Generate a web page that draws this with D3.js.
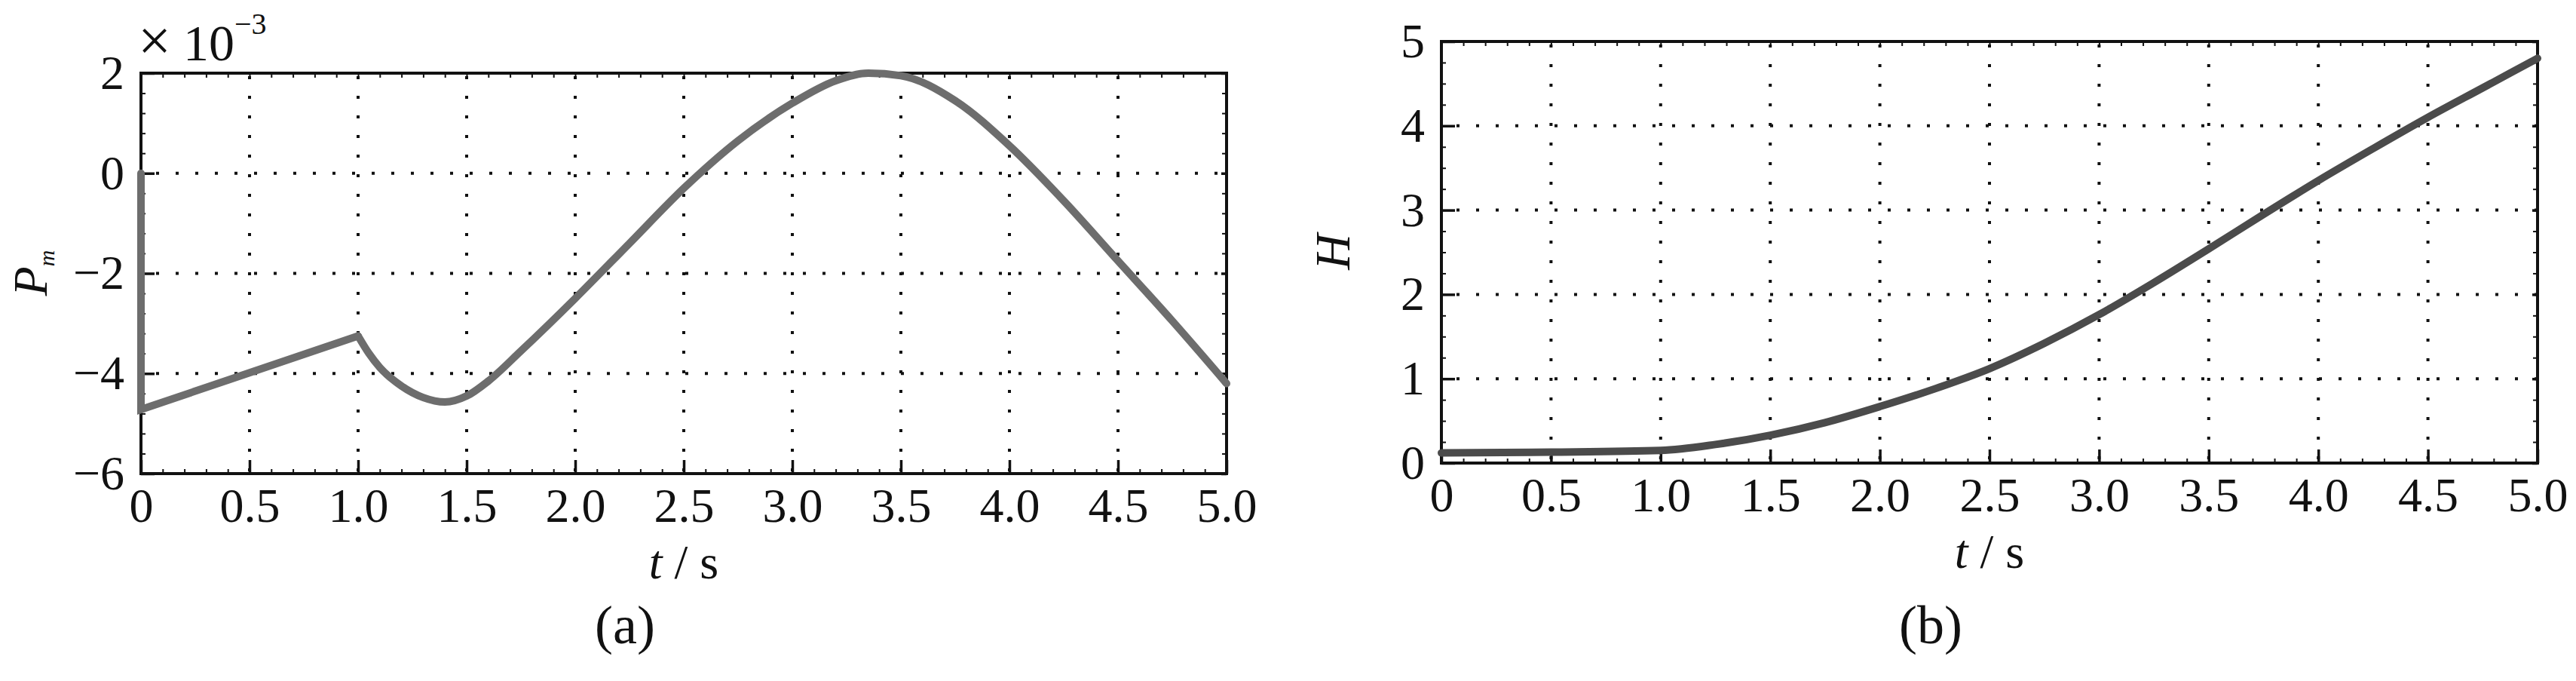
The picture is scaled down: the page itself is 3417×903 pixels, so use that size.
<!DOCTYPE html>
<html>
<head>
<meta charset="utf-8">
<script src="https://cdn.jsdelivr.net/npm/d3@7"></script>
<style>
  html, body { margin: 0; padding: 0; background: #fff; }
  svg { display: block; background: #fff; }
  svg text { font-family: "Liberation Serif", "Times New Roman", serif !important; fill: #111; }
</style>
</head>
<body>
<svg id="chart" width="3417" height="903"></svg>
<script>
//
// Data
//
const tTicks = [0, 0.5, 1.0, 1.5, 2.0, 2.5, 3.0, 3.5, 4.0, 4.5, 5.0];
const tTickLabels = ['0', '0.5', '1.0', '1.5', '2.0', '2.5', '3.0', '3.5', '4.0', '4.5', '5.0'];

// (a) Pm, in units of 1e-3
const pmTicks = [-6, -4, -2, 0, 2];
const pmT = [0, 0, 1.0, 1.05, 1.1, 1.2, 1.3, 1.4, 1.5, 1.6, 1.75, 2.0, 2.25, 2.5,
             2.75, 3.0, 3.2, 3.35, 3.5, 3.75, 4.0, 4.25, 4.5, 4.75, 5.0];
const pmV = [0, -4.72, -3.25, -3.6, -3.88, -4.25, -4.48, -4.57, -4.45, -4.15, -3.55, -2.5, -1.4, -0.3,
             0.65, 1.4, 1.85, 2.0, 1.95, 1.45, 0.55, -0.55, -1.75, -2.95, -4.2];

// (b) H
const hTicks = [0, 1, 2, 3, 4, 5];
const hT = [0, 0.5, 1.0, 1.25, 1.5, 1.75, 2.0, 2.25, 2.5, 2.75, 3.0, 3.25, 3.5, 3.75, 4.0, 4.25, 4.5, 4.75, 5.0];
const hV = [0.12, 0.13, 0.15, 0.22, 0.33, 0.48, 0.67, 0.88, 1.12, 1.42, 1.76, 2.14, 2.54, 2.95, 3.35, 3.73, 4.1, 4.45, 4.8];

//
// Configuration
//
const fontTick = 64;
const serif = '"Liberation Serif", "Times New Roman", serif';
const colorAxis = '#111';
const boxA = {left: 187, right: 1627, top: 97, bottom: 628};
const boxB = {left: 1912, right: 3366, top: 55, bottom: 614};

const svg = d3.select('#chart').attr('font-family', serif);

//
// Functions
//
function styleAxis(g) {
  g.attr('font-family', serif).attr('font-size', fontTick);
  g.select('.domain').remove();
  g.selectAll('.tick line').attr('stroke', colorAxis).attr('stroke-width', 3.5);
  g.selectAll('.tick text').attr('fill', '#111').attr('font-family', serif);
}

function drawPanel(box, yDomain, yTicks, yMinorStep, yFmt) {
  const g = svg.append('g');
  const x = d3.scaleLinear().domain([0, 5]).range([box.left, box.right]);
  const y = d3.scaleLinear().domain(yDomain).range([box.bottom, box.top]);

  // dotted grid
  g.append('g').selectAll('line').data(tTicks.slice(1, -1)).join('line')
      .attr('x1', d => x(d)).attr('x2', d => x(d))
      .attr('y1', box.top + 4).attr('y2', box.bottom)
      .attr('stroke', colorAxis).attr('stroke-width', 4).attr('stroke-dasharray', '4 22');
  g.append('g').selectAll('line').data(yTicks.slice(1, -1)).join('line')
      .attr('y1', d => y(d)).attr('y2', d => y(d))
      .attr('x1', box.left + 20).attr('x2', box.right)
      .attr('stroke', colorAxis).attr('stroke-width', 4).attr('stroke-dasharray', '4 22');

  // minor ticks on all four sides
  const xMinor = d3.range(0, 5.0001, 0.1);
  const yMinor = d3.range(yDomain[0], yDomain[1] + 1e-6, yMinorStep);
  g.append('g').attr('transform', `translate(0,${box.bottom})`)
      .call(d3.axisBottom(x).tickValues(xMinor).tickSize(-6).tickFormat('')).call(styleAxis)
      .selectAll('.tick line').attr('stroke-width', 2);
  g.append('g').attr('transform', `translate(0,${box.top})`)
      .call(d3.axisTop(x).tickValues(xMinor).tickSize(-6).tickFormat('')).call(styleAxis)
      .selectAll('.tick line').attr('stroke-width', 2);
  g.append('g').attr('transform', `translate(${box.left},0)`)
      .call(d3.axisLeft(y).tickValues(yMinor).tickSize(-6).tickFormat('')).call(styleAxis)
      .selectAll('.tick line').attr('stroke-width', 2);
  g.append('g').attr('transform', `translate(${box.right},0)`)
      .call(d3.axisRight(y).tickValues(yMinor).tickSize(-6).tickFormat('')).call(styleAxis)
      .selectAll('.tick line').attr('stroke-width', 2);

  // major ticks with labels
  g.append('g').attr('transform', `translate(0,${box.bottom})`)
      .call(d3.axisBottom(x).tickValues(tTicks).tickSize(-18).tickPadding(19)
          .tickFormat((d, i) => tTickLabels[i]))
      .call(styleAxis);
  g.append('g').attr('transform', `translate(${box.left},0)`)
      .call(d3.axisLeft(y).tickValues(yTicks).tickSize(-18).tickPadding(22).tickFormat(yFmt))
      .call(styleAxis);
  g.append('g').attr('transform', `translate(${box.right},0)`)
      .call(d3.axisRight(y).tickValues(yTicks).tickSize(-7).tickFormat(''))
      .call(styleAxis);

  // frame
  g.append('rect')
      .attr('x', box.left).attr('y', box.top)
      .attr('width', box.right - box.left).attr('height', box.bottom - box.top)
      .attr('fill', 'none').attr('stroke', colorAxis).attr('stroke-width', 4);

  // x label "t / s"
  const cx = (box.left + box.right) / 2;
  const xl = g.append('text').attr('x', cx).attr('y', box.bottom + 139)
      .attr('text-anchor', 'middle').attr('font-size', 64);
  xl.append('tspan').attr('font-style', 'italic').text('t');
  xl.append('tspan').text(' / s');

  return {g, x, y};
}

function drawCurve(p, ts, vs, color, curve) {
  const line = d3.line().x(i => p.x(ts[i])).y(i => p.y(vs[i])).curve(curve);
  p.g.append('path')
      .attr('d', line(d3.range(ts.length)))
      .attr('fill', 'none').attr('stroke', color).attr('stroke-width', 10)
      .attr('stroke-linejoin', 'miter').attr('stroke-linecap', 'round');
}

//
// Panel (a)
//
const minus = d => (d < 0 ? '\u2212' + Math.abs(d) : String(d));
const pa = drawPanel(boxA, [-6, 2], pmTicks, 0.4, minus);
// straight part up to the kink at t = 1.0, then the smooth part
const kink = 2;
drawCurve(pa, pmT.slice(0, kink + 1), pmV.slice(0, kink + 1), '#6d6d6d', d3.curveLinear);
drawCurve(pa, pmT.slice(kink), pmV.slice(kink), '#6d6d6d', d3.curveMonotoneX);

// exponent label
const ex = svg.append('text').attr('x', 183).attr('y', 80).attr('font-size', 68);
ex.append('tspan').attr('font-size', 78).text('\u00d7');
ex.append('tspan').attr('dx', 16).text('10');
ex.append('tspan').attr('dy', -35).attr('font-size', 40).text('\u22123');

// y label P_m
const pl = svg.append('text').attr('transform', 'translate(62,362) rotate(-90)')
    .attr('text-anchor', 'middle').attr('font-size', 64).attr('font-style', 'italic');
pl.append('tspan').text('P');
pl.append('tspan').attr('dy', 10).attr('font-size', 30).text('m');

svg.append('text').attr('x', (boxA.left + boxA.right) / 2 - 78).attr('y', 853)
    .attr('text-anchor', 'middle').attr('font-size', 72).text('(a)');

//
// Panel (b)
//
const pb = drawPanel(boxB, [0, 5], hTicks, 0.25, d => String(d));
drawCurve(pb, hT, hV, '#4b4b4b', d3.curveMonotoneX);

svg.append('text').attr('transform', 'translate(1790,334) rotate(-90)')
    .attr('text-anchor', 'middle').attr('font-size', 66).attr('font-style', 'italic')
    .text('H');

svg.append('text').attr('x', (boxB.left + boxB.right) / 2 - 78).attr('y', 853)
    .attr('text-anchor', 'middle').attr('font-size', 72).text('(b)');
</script>
</body>
</html>
